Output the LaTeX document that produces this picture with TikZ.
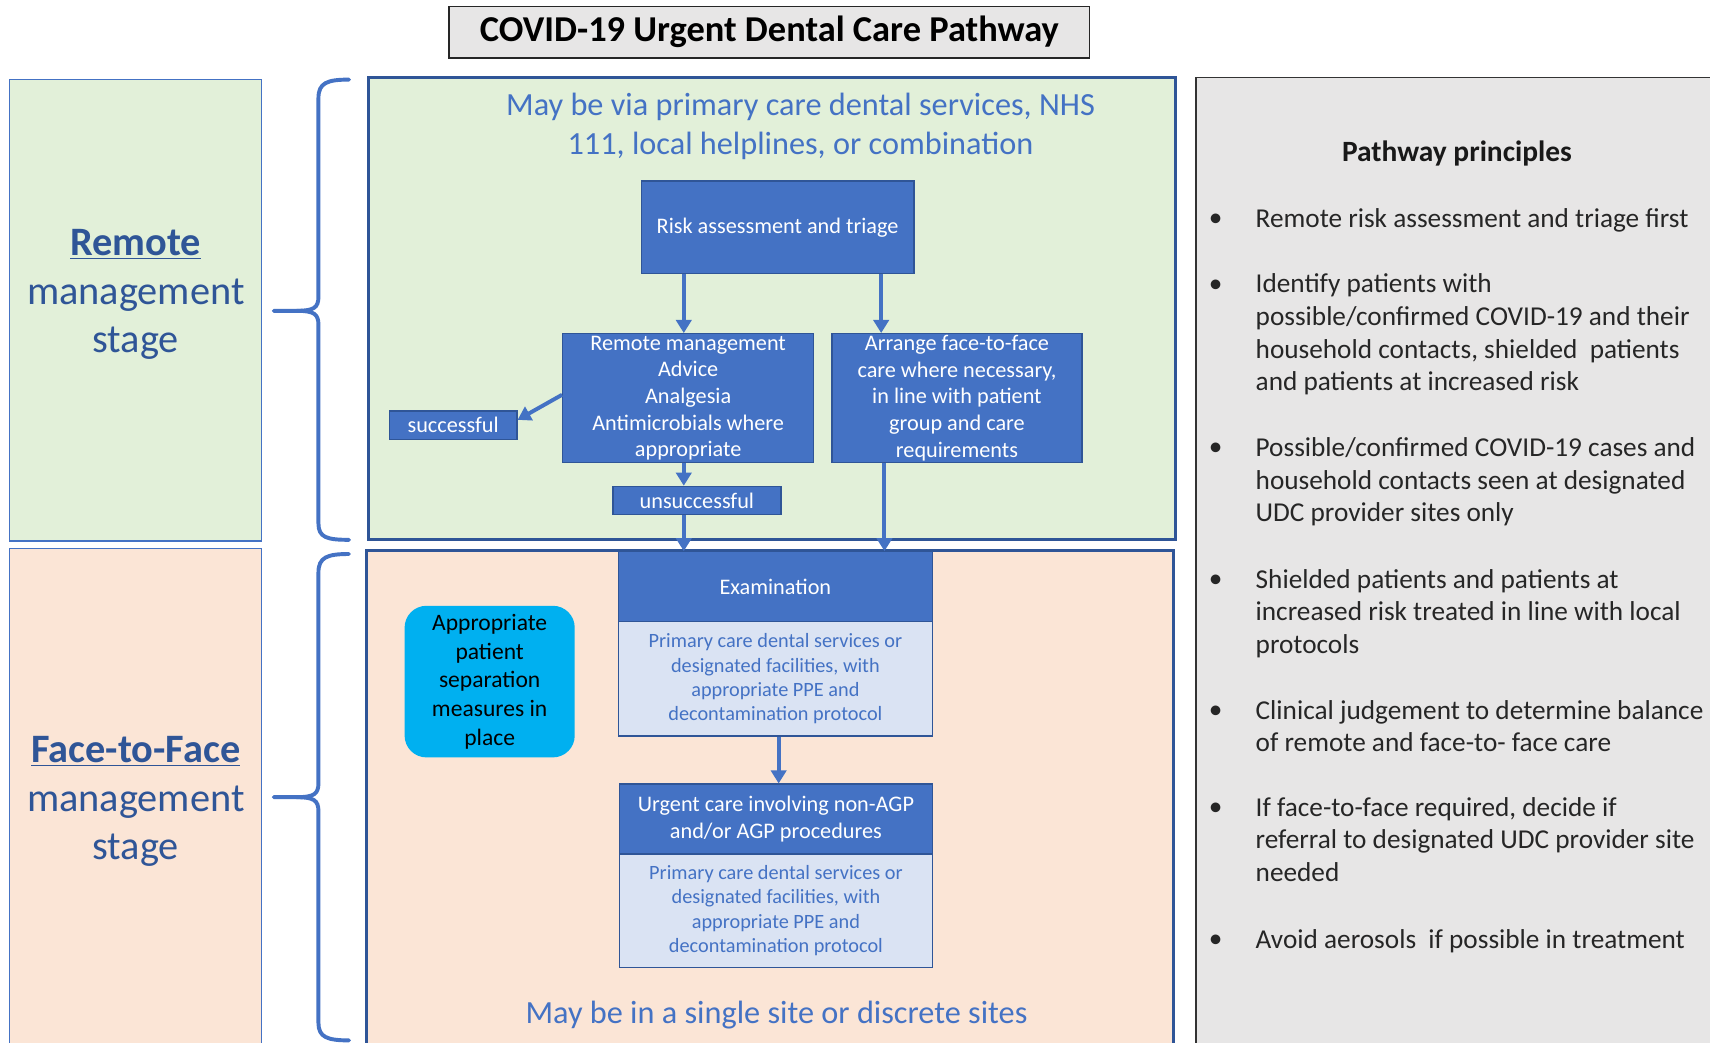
\documentclass[tikz,border=0pt]{standalone}
\usepackage{fontspec}
\setmainfont{Carlito}
\usepackage{tikz}
\usetikzlibrary{arrows.meta}

\definecolor{officeblue}{HTML}{4472C4}
\definecolor{edgeblue}{HTML}{2F5597}
\definecolor{paleblue}{HTML}{DAE3F3}
\definecolor{palegreen}{HTML}{E2F0D9}
\definecolor{palepeach}{HTML}{FBE5D6}
\definecolor{palegray}{HTML}{E7E6E6}
\definecolor{cyanbox}{HTML}{00B0F0}

\tikzset{
  darkbox/.style = {draw=edgeblue, fill=officeblue, text=white, align=center, inner sep=0pt, line width=0.6pt,
                    font=\fontsize{10.2}{12.2}\selectfont},
  lightbox/.style = {draw=edgeblue, fill=paleblue, text=officeblue, align=center, inner sep=0pt, line width=0.6pt,
                     font=\fontsize{9.3}{11.1}\selectfont},
  flow/.style = {draw=officeblue, line width=1.8pt, -{Triangle[width=7pt,length=6pt]}},
  bracestroke/.style = {draw=officeblue, line width=1.8pt, line cap=round},
  principle/.style = {anchor=north west, align=left, inner sep=0pt, text=black!85, font=\fontsize{12.5}{15}\selectfont},
  dot/.style = {anchor=base west, inner sep=0pt, text=black!85, font=\fontsize{12.5}{15}\selectfont},
}

\begin{document}
\begin{tikzpicture}[x=0.5pt, y=-0.5pt]

    % \draw [help lines, step = 50] (0,0) grid (1568,956);
    \fill [white] (0,0) rectangle (1568,956);
    \clip (0,0) rectangle (1568,956);

    % stage panels
    \filldraw [fill=palegreen, draw=officeblue, line width=0.6pt] (9,73) rectangle (240,496);
    \filldraw [fill=palepeach, draw=officeblue, line width=0.6pt] (9,503) rectangle (240,970);
    \filldraw [fill=palegreen, draw=edgeblue, line width=1.3pt] (338,71) rectangle (1078,495);
    \filldraw [fill=palepeach, draw=edgeblue, line width=1.3pt] (336,505) rectangle (1076,970);
    \filldraw [fill=palegray, draw=black!80, line width=0.8pt] (1097,71) rectangle (1590,970);

    % braces
    \draw [bracestroke] (320,73) .. controls (300,73) and (292,76) .. (292,90) -- (292,272)
        .. controls (292,282) and (288,285) .. (272,285) -- (251,285);
    \draw [bracestroke] (272,285) .. controls (288,285) and (292,288) .. (292,298) -- (292,480)
        .. controls (292,493) and (300,495) .. (320,495);
    \draw [bracestroke] (320,508) .. controls (300,508) and (292,511) .. (292,525) -- (292,718)
        .. controls (292,728) and (288,731) .. (272,731) -- (251,731);
    \draw [bracestroke] (272,731) .. controls (288,731) and (292,734) .. (292,744) -- (292,938)
        .. controls (292,951) and (300,954) .. (320,954);

    % title
    \node [draw=black!85, fill=palegray, line width=0.8pt, minimum width=293.5pt, minimum height=23.5pt,
           font=\fontsize{16.7}{18}\selectfont\bfseries] (title) at (705.5,29.5) {COVID-19 Urgent Dental Care Pathway};

    % stage labels
    \node [align=center, text=edgeblue, font=\fontsize{18.5}{22.3}\selectfont] (remotelabel) at (124.5,270)
        {\textbf{\underline{Remote}}\\management\\stage};
    \node [align=center, text=edgeblue, font=\fontsize{18.5}{22.3}\selectfont] (facelabel) at (124.5,735)
        {\textbf{\underline{Face-to-Face}}\\management\\stage};

    % remote stage
    \node [align=center, text=officeblue, font=\fontsize{14.8}{18}\selectfont] (via) at (734,116)
        {May be via primary care dental services, NHS\\111, local helplines, or combination};
    \node [darkbox, minimum width=125pt, minimum height=42.5pt] (risk) at (713,208.5)
        {Risk assessment and triage};
    \node [darkbox, minimum width=115pt, minimum height=59pt] (remote) at (631,365)
        {Remote management\\Advice\\Analgesia\\Antimicrobials where\\appropriate};
    \node [darkbox, minimum width=114.5pt, minimum height=59pt] (arrange) at (877.5,365)
        {Arrange face-to-face\\care where necessary,\\in line with patient\\group and care\\requirements};
    \node [darkbox, minimum width=58.5pt, minimum height=13pt] (success) at (415.5,390)
        {successful};
    \node [darkbox, minimum width=77pt, minimum height=13pt] (unsuccess) at (639,459)
        {unsuccessful};

    % face-to-face stage
    \node [darkbox, minimum width=144pt, minimum height=32pt] (exam) at (711,538)
        {Examination};
    \node [lightbox, minimum width=144pt, minimum height=52.5pt] (examsite) at (711,622.5)
        {Primary care dental services or\\designated facilities, with\\appropriate PPE and\\decontamination protocol};
    \node [darkbox, minimum width=143.5pt, minimum height=32pt] (urgent) at (711.5,751)
        {Urgent care involving non-AGP\\and/or AGP procedures};
    \node [lightbox, minimum width=143.5pt, minimum height=52pt] (urgentsite) at (711.5,835)
        {Primary care dental services or\\designated facilities, with\\appropriate PPE and\\decontamination protocol};
    \node [fill=cyanbox, rounded corners=10pt, align=center, inner sep=0pt, minimum width=78pt, minimum height=69.5pt,
           font=\fontsize{10.8}{13.2}\selectfont] (separation) at (449,625)
        {Appropriate\\patient\\separation\\measures in\\place};
    \node [align=center, text=officeblue, font=\fontsize{14.8}{18}\selectfont] (sites) at (712,931)
        {May be in a single site or discrete sites};

    % arrows
    \draw [flow] ([xshift=-43pt]risk.south) -- ([xshift=-43pt]risk.south |- remote.north);
    \draw [flow] ([xshift=47.5pt]risk.south) -- ([xshift=47.5pt]risk.south |- arrange.north);
    \draw [flow] ([yshift=1.5pt]remote.west) -- ([yshift=2.5pt]success.east);
    \draw [flow] ([xshift=-2pt]remote.south) -- ([xshift=-2pt]remote.south |- unsuccess.north);
    \draw [flow] ([xshift=-6pt]unsuccess.south) -- ([xshift=-6pt]unsuccess.south |- exam.north);
    \draw [flow] ([xshift=-33.25pt]arrange.south) -- ([xshift=-33.25pt]arrange.south |- exam.north);
    \draw [flow] ([xshift=1.5pt]examsite.south) -- ([xshift=1.5pt]examsite.south |- urgent.north);

    % principles
    \node [font=\fontsize{13.5}{15}\selectfont\bfseries, text=black!90] (principles) at (1336,141) {Pathway principles};

    \node [dot] (d1) at (1108,208) {•};
    \node [principle] (p1) at (1151,187) {\strut Remote risk assessment and triage first};
    \node [dot] (d2) at (1108,268) {•};
    \node [principle] (p2) at (1151,247) {\strut Identify patients with\\possible/confirmed COVID-19 and their\\household contacts, shielded\ \ patients\\and patients at increased risk};
    \node [dot] (d3) at (1108,418) {•};
    \node [principle] (p3) at (1151,397) {\strut Possible/confirmed COVID-19 cases and\\household contacts seen at designated\\UDC provider sites only};
    \node [dot] (d4) at (1108,539) {•};
    \node [principle] (p4) at (1151,518) {\strut Shielded patients and patients at\\increased risk treated in line with local\\protocols};
    \node [dot] (d5) at (1108,659) {•};
    \node [principle] (p5) at (1151,638) {\strut Clinical judgement to determine balance\\of remote and face-to- face care};
    \node [dot] (d6) at (1108,748) {•};
    \node [principle] (p6) at (1151,727) {\strut If face-to-face required, decide if\\referral to designated UDC provider site\\needed};
    \node [dot] (d7) at (1108,869) {•};
    \node [principle] (p7) at (1151,848) {\strut Avoid aerosols\ \ if possible in treatment};

\end{tikzpicture}
\end{document}
